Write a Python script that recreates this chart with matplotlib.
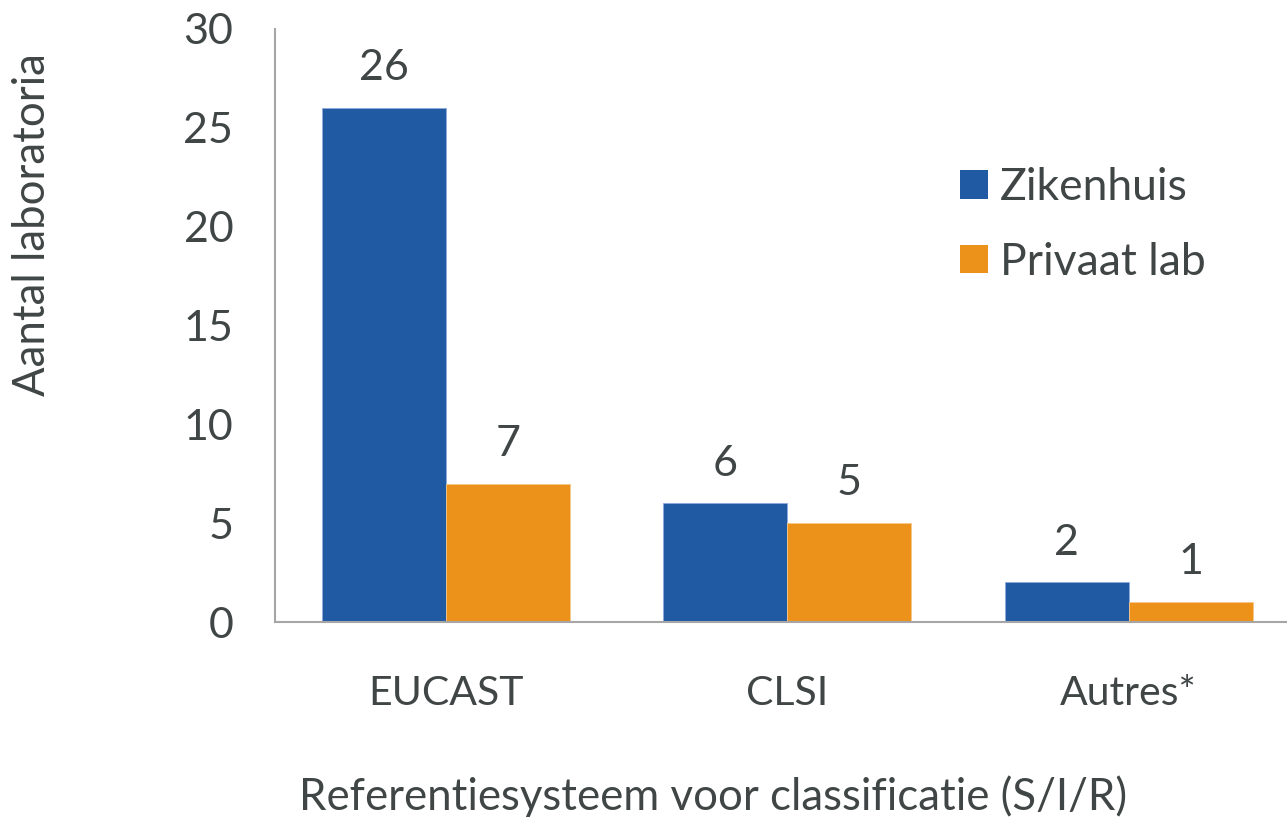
import numpy as np
import matplotlib
matplotlib.use("Agg")
import matplotlib.pyplot as plt
from matplotlib.patches import Patch

# Data
categories = ["EUCAST", "CLSI", "Autres*"]
series_names = ["Zikenhuis", "Privaat lab"]
zikenhuis = [26, 6, 2]
privaat_lab = [7, 5, 1]
y_ticks = [0, 5, 10, 15, 20, 25, 30]

blue = "#1F5AA3"
orange = "#EC9119"
txt = "#404545"

plt.rcParams['font.family'] = ['Lato', 'DejaVu Sans']

W, H = 1287, 817
fig = plt.figure(figsize=(W / 100, H / 100), dpi=100)
# plot area in pixel coords (left, top, right, bottom)
left, top, right, bottom = 275, 29, 1299.5, 622
ax = fig.add_axes([left / W, 1 - bottom / H, (right - left) / W, (bottom - top) / H])

x = np.arange(len(categories))
bw = 0.363
b1 = ax.bar(x - bw / 2, zikenhuis, bw, color=blue, edgecolor="#8FAADC", linewidth=0.6)
b2 = ax.bar(x + bw / 2, privaat_lab, bw, color=orange, edgecolor="#F6C88C", linewidth=0.6)

for bars in (b1, b2):
    for r in bars:
        ax.annotate(str(int(r.get_height())), (r.get_x() + r.get_width() / 2, r.get_height()),
                    xytext=(0, 15), textcoords="offset points", ha="center", va="bottom",
                    fontsize=31, color=txt)

ax.set_xlim(-0.5, 2.5)
ax.set_ylim(0, 30)
ax.set_yticks(y_ticks)
ax.set_xticks(x)
ax.set_xticklabels(categories)
ax.tick_params(axis="both", length=0, labelcolor=txt)
ax.tick_params(axis="y", pad=30, labelsize=31)
ax.tick_params(axis="x", pad=38, labelsize=29.5)

for s in ("top", "right"):
    ax.spines[s].set_visible(False)
for s in ("left", "bottom"):
    ax.spines[s].set_color("#A6A6A6")
    ax.spines[s].set_linewidth(1.5)

ax.set_ylabel("Aantal laboratoria", fontsize=31.5, color=txt, labelpad=0)
ax.yaxis.set_label_coords((53 - left) / (right - left), 0.5 - (225 - (top + bottom) / 2) / (bottom - top))
fig.text(713 / W, 1 - 797 / H, "Referentiesysteem voor classificatie (S/I/R)",
         ha="center", va="center", fontsize=31.5, color=txt)

handles = [Patch(facecolor=blue), Patch(facecolor=orange)]
leg = fig.legend(handles, series_names, loc="center left", bbox_to_anchor=(960 / W, 1 - 225 / H),
                 frameon=False, fontsize=32, labelcolor=txt, handlelength=0.62, handleheight=0.62,
                 handletextpad=0.28, labelspacing=0.75, borderpad=0, borderaxespad=0)

fig.savefig("out.png", dpi=100)
